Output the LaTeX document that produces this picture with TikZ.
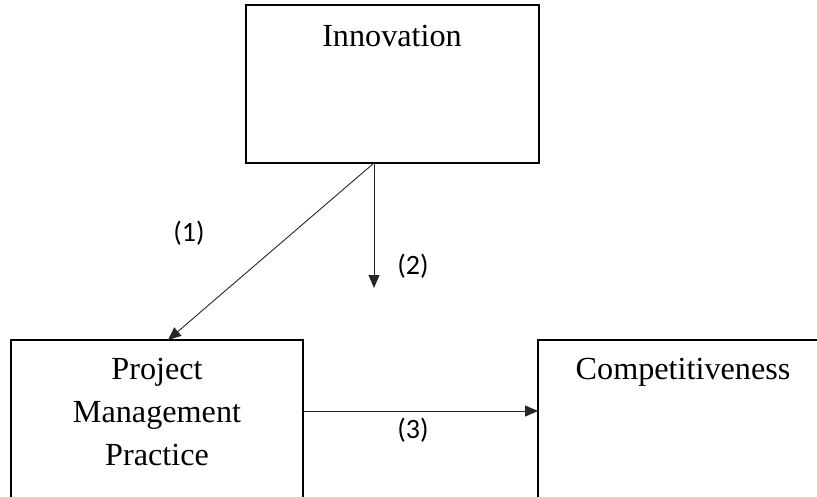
\documentclass[tikz,border=0pt]{standalone}
\usepackage{fontspec}
\setmainfont{Liberation Serif}
\newfontfamily\calib{Carlito}
\usetikzlibrary{arrows.meta,calc}
\tikzset{
  boxnode/.style={draw=black, line width=2pt, inner sep=0pt},
  boxtext/.style={font=\fontsize{32.2}{43}\selectfont, align=center, inner sep=0pt},
  numlabel/.style={font=\calib\fontsize{28}{32}\selectfont, inner sep=0pt},
  conn/.style={draw=black!85, line width=0.9pt, -{Triangle[length=13pt,width=11pt]}}
}
\begin{document}
\begin{tikzpicture}[x=1pt,y=-1pt]
  \useasboundingbox (0,0) rectangle (817,496);
  \clip (0,0) rectangle (817,496);
  % boxes
  \node[boxnode, minimum width=293pt, minimum height=158pt] (inn) at (392.5,84) {};
  \node[boxnode, minimum width=292pt, minimum height=190pt] (pmp) at (157,435) {};
  \node[boxnode, minimum width=300pt, minimum height=190pt] (comp) at (688,435) {};
  % box texts
  \node[boxtext] (inntxt) at (392,36) {Innovation};
  \node[boxtext] (pmptxt) at (157,412) {Project\\Management\\Practice};
  \node[boxtext] (comptxt) at (683,372) {Competitiveness};
  % connector end points
  \coordinate (src) at (374,163);
  \coordinate (pmptop) at (168,340);
  \coordinate (end2) at (374,288);
  \coordinate (pmpright) at (303,411);
  \coordinate (compleft) at (538,411);
  % connectors
  \draw[conn] (src) -- (pmptop);
  \draw[conn] (src) -- (end2);
  \draw[conn] (pmpright) -- (compleft);
  % labels
  \node[numlabel] (l1) at (189,233) {(1)};
  \node[numlabel] (l2) at (413,266) {(2)};
  \node[numlabel] (l3) at (413,430) {(3)};
\end{tikzpicture}
\end{document}
